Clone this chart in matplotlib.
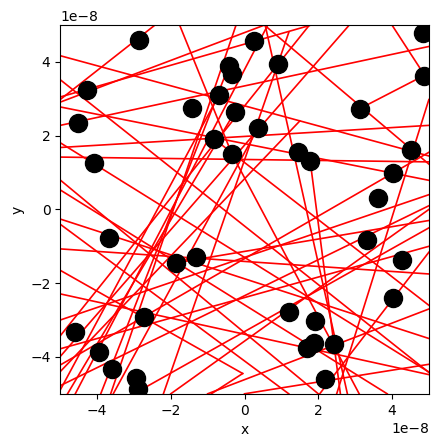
import matplotlib
matplotlib.use('Agg')
import matplotlib.pyplot as plt
import numpy as np

SCALE = 1e-8

# particle positions (units of 1e-8)
px = [-2.86, 0.27, 4.85, 0.90, -0.43, -0.34, 4.86, -4.26, -0.69, -1.42,
      3.12, -0.26, -4.53, 0.36, -0.83, 4.52, 1.44, -0.34, -4.07, 1.78,
      4.04, 3.62, -3.67, 3.33, 4.28, -1.32, -1.86, 4.03, -2.72, 1.20,
      1.92, -4.59, 2.43, 1.89, 1.69, -3.96, -3.59, -2.93, 2.19, -2.88]
py = [4.59, 4.57, 4.78, 3.95, 3.88, 3.68, 3.63, 3.25, 3.11, 2.76,
      2.73, 2.65, 2.35, 2.20, 1.90, 1.60, 1.57, 1.50, 1.25, 1.32,
      1.00, 0.32, -0.77, -0.84, -1.37, -1.29, -1.45, -2.41, -2.92, -2.77,
      -3.02, -3.32, -3.64, -3.61, -3.77, -3.86, -4.32, -4.57, -4.61, -4.86]

# ray segments: start and end (units of 1e-8)
x0 = [-5, -5, -5, -5, -5, -5, -5, -5, -5, -5, -5, -5, -5,
      -1.76, -0.34, -0.23, 0.56, 1.76, 2.84, 4.0, 0.54, 3.12, -5, 5, 5,
      -5, -5, -0.05, -4.59, -3.56, 5, -5, -5, -5, -5, -4.8, -3.9, -2.2,
      5, 5, 5, 5, -5, 1.78, -5, -0.81, 5]
y0 = [2.98, 4.17, 3.05, 2.91, 2.28, 1.68, 1.42, 1.81, 0.53, -1.07, -2.29,
      -3.78, -4.22,
      5, 1.5, 5, 5, 5, 5, 5, 5, 2.73, 2.78, 0.1, -1.16,
      3.52, -1.65, -4.45, -5, -5, 2.98, -0.26, -0.4, -4.9, -4.4, -5, -5, -5,
      0.0, -0.5, -2.7, -4.2, 0.8, 1.32, -3.0, 1.90, -0.3]
x1 = [-2.43, 5, 1.8, 0.54, 5, 5, 5, 5, 3.87, 5, 5, 5, 5,
      -0.34, 3.11, -3.63, 2.79, -5, -5, 5, 5, 5, 5, -5, 2.04,
      5, -0.05, -0.9, 0.63, 0.36, 2.5, 5, 1.2, -0.69, 1.5, -0.26, -0.43, 1.2,
      -2.0, -3.0, -1.0, 0.0, 2.0, 2.6, 5, 5, -1.86]
y1 = [5, 1.45, 5, 5, 4.42, 2.28, 1.29, -4.41, -5, -1.75, -4.48, -1.0, 1.55,
      1.5, -5, -5, -5, -3.43, -3.99, 3.46, 1.23, 3.70, 0.79, -4.78, -5,
      -4.42, -4.45, -5, 5, 2.2, -5, -3.5, -5, 3.11, 2.4, 2.65, 3.88, 4.8,
      -5, -5, -5, -5, -5, -5, 0.4, -2.6, -1.45]

fig, ax = plt.subplots(figsize=(4.39, 4.48))
for a, b, c, d in zip(x0, y0, x1, y1):
    ax.plot([a * SCALE, c * SCALE], [b * SCALE, d * SCALE], 'r-', lw=1.2)
ax.plot(np.array(px) * SCALE, np.array(py) * SCALE, 'ko', markersize=13)
ax.set_xlim(-5e-8, 5e-8)
ax.set_ylim(-5e-8, 5e-8)
ax.set_aspect('equal')
ax.set_xlabel('x')
ax.set_ylabel('y')
fig.subplots_adjust(left=0.137, right=0.977, top=0.944, bottom=0.121)
fig.savefig('out.png', dpi=100)
